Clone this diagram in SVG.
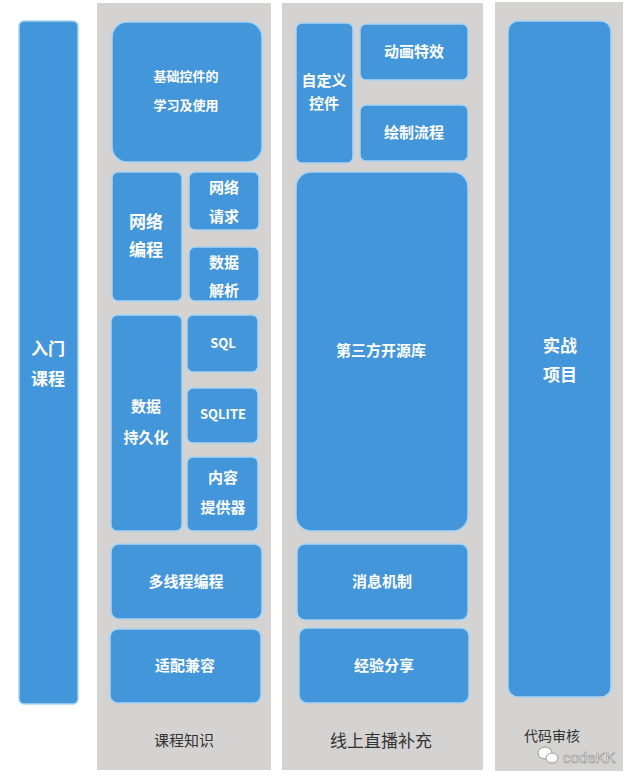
<svg xmlns="http://www.w3.org/2000/svg" width="640" height="784" viewBox="0 0 640 784">
<style>
.bg{fill:#d4d3d2}
.b{fill:#4496db;stroke:#a9d3f2;stroke-width:1.5}
.t{fill:#ffffff;font-family:"Noto Sans CJK SC","Liberation Sans",sans-serif;font-weight:bold;text-anchor:middle;dominant-baseline:central}
.s13{font-size:13px}.s15{font-size:15px}.s17{font-size:17px}
.lab{fill:#333333;font-family:"Noto Sans CJK SC","Liberation Sans",sans-serif;text-anchor:middle;dominant-baseline:central}
</style>
<rect width="640" height="784" fill="#ffffff"/>
<g id="columns">
<rect class="bg" x="97" y="3" width="174" height="767"/>
<rect class="bg" x="282" y="3" width="201" height="767"/>
<rect class="bg" x="495" y="2" width="128" height="769"/>
</g>
<g id="intro"><rect class="b" x="19" y="21" width="59" height="683" rx="5"/><text class="t s17" x="48" y="347">入门</text><text class="t s17" x="48" y="377">课程</text></g>
<g id="basic"><rect class="b" x="112" y="22" width="150" height="140" rx="15"/><text class="t s13" x="186" y="75">基础控件的</text><text class="t s13" x="186" y="104">学习及使用</text></g>
<g id="net"><rect class="b" x="112" y="172" width="70" height="129" rx="6"/><text class="t s17" x="146" y="220">网络</text><text class="t s17" x="146" y="248">编程</text></g>
<g id="netreq"><rect class="b" x="189" y="172" width="70" height="58" rx="6"/><text class="t s15" x="224" y="186">网络</text><text class="t s15" x="224" y="215">请求</text></g>
<g id="parse"><rect class="b" x="189" y="247" width="70" height="54" rx="6"/><text class="t s15" x="224" y="261">数据</text><text class="t s15" x="224" y="289">解析</text></g>
<g id="persist"><rect class="b" x="111" y="315" width="71" height="216" rx="6"/><text class="t s15" x="146" y="405">数据</text><text class="t s15" x="146" y="436">持久化</text></g>
<g id="sql"><rect class="b" x="187" y="315" width="71" height="57" rx="6"/><text class="t s13" x="223" y="342">SQL</text></g>
<g id="sqlite"><rect class="b" x="187" y="388" width="71" height="55" rx="6"/><text class="t s13" x="223" y="413">SQLITE</text></g>
<g id="provider"><rect class="b" x="187" y="457" width="71" height="74" rx="6"/><text class="t s15" x="223" y="476">内容</text><text class="t s15" x="223" y="506">提供器</text></g>
<g id="thread"><rect class="b" x="111" y="544" width="151" height="75" rx="8"/><text class="t s15" x="186" y="580">多线程编程</text></g>
<g id="compat"><rect class="b" x="110" y="629" width="151" height="74" rx="8"/><text class="t s15" x="185" y="664">适配兼容</text></g>
<text class="lab" x="184" y="739" font-size="15">课程知识</text>
<g id="custom"><rect class="b" x="296" y="23" width="57" height="140" rx="6"/><text class="t s15" x="324" y="79">自定义</text><text class="t s15" x="324" y="102">控件</text></g>
<g id="anim"><rect class="b" x="360" y="24" width="108" height="56" rx="6"/><text class="t s15" x="414" y="50">动画特效</text></g>
<g id="draw"><rect class="b" x="360" y="105" width="108" height="56" rx="6"/><text class="t s15" x="414" y="131">绘制流程</text></g>
<g id="thirdparty"><rect class="b" x="296" y="172" width="172" height="359" rx="15"/><text class="t s15" x="381" y="349">第三方开源库</text></g>
<g id="msg"><rect class="b" x="297" y="544" width="171" height="76" rx="8"/><text class="t s15" x="382" y="580">消息机制</text></g>
<g id="share"><rect class="b" x="299" y="628" width="170" height="75" rx="8"/><text class="t s15" x="384" y="664">经验分享</text></g>
<text class="lab" x="381" y="739" font-size="17">线上直播补充</text>
<g id="project"><rect class="b" x="508" y="21" width="103" height="676" rx="10"/><text class="t s17" x="560" y="344">实战</text><text class="t s17" x="560" y="373">项目</text></g>
<text class="lab" x="552" y="735" font-size="14">代码审核</text>
<g id="watermark">
<ellipse cx="545" cy="753" rx="7" ry="6" fill="#ffffff" stroke="#9a9a9a" stroke-width="1"/>
<ellipse cx="552" cy="758" rx="6" ry="5" fill="#ffffff" stroke="#9a9a9a" stroke-width="1"/>
<text x="563" y="757" font-family="Liberation Sans, sans-serif" font-size="15" fill="#ffffff" stroke="#8a8a8a" stroke-width="0.6" dominant-baseline="central">codeKK</text>
</g>
<g id="connectors"></g>
</svg>
